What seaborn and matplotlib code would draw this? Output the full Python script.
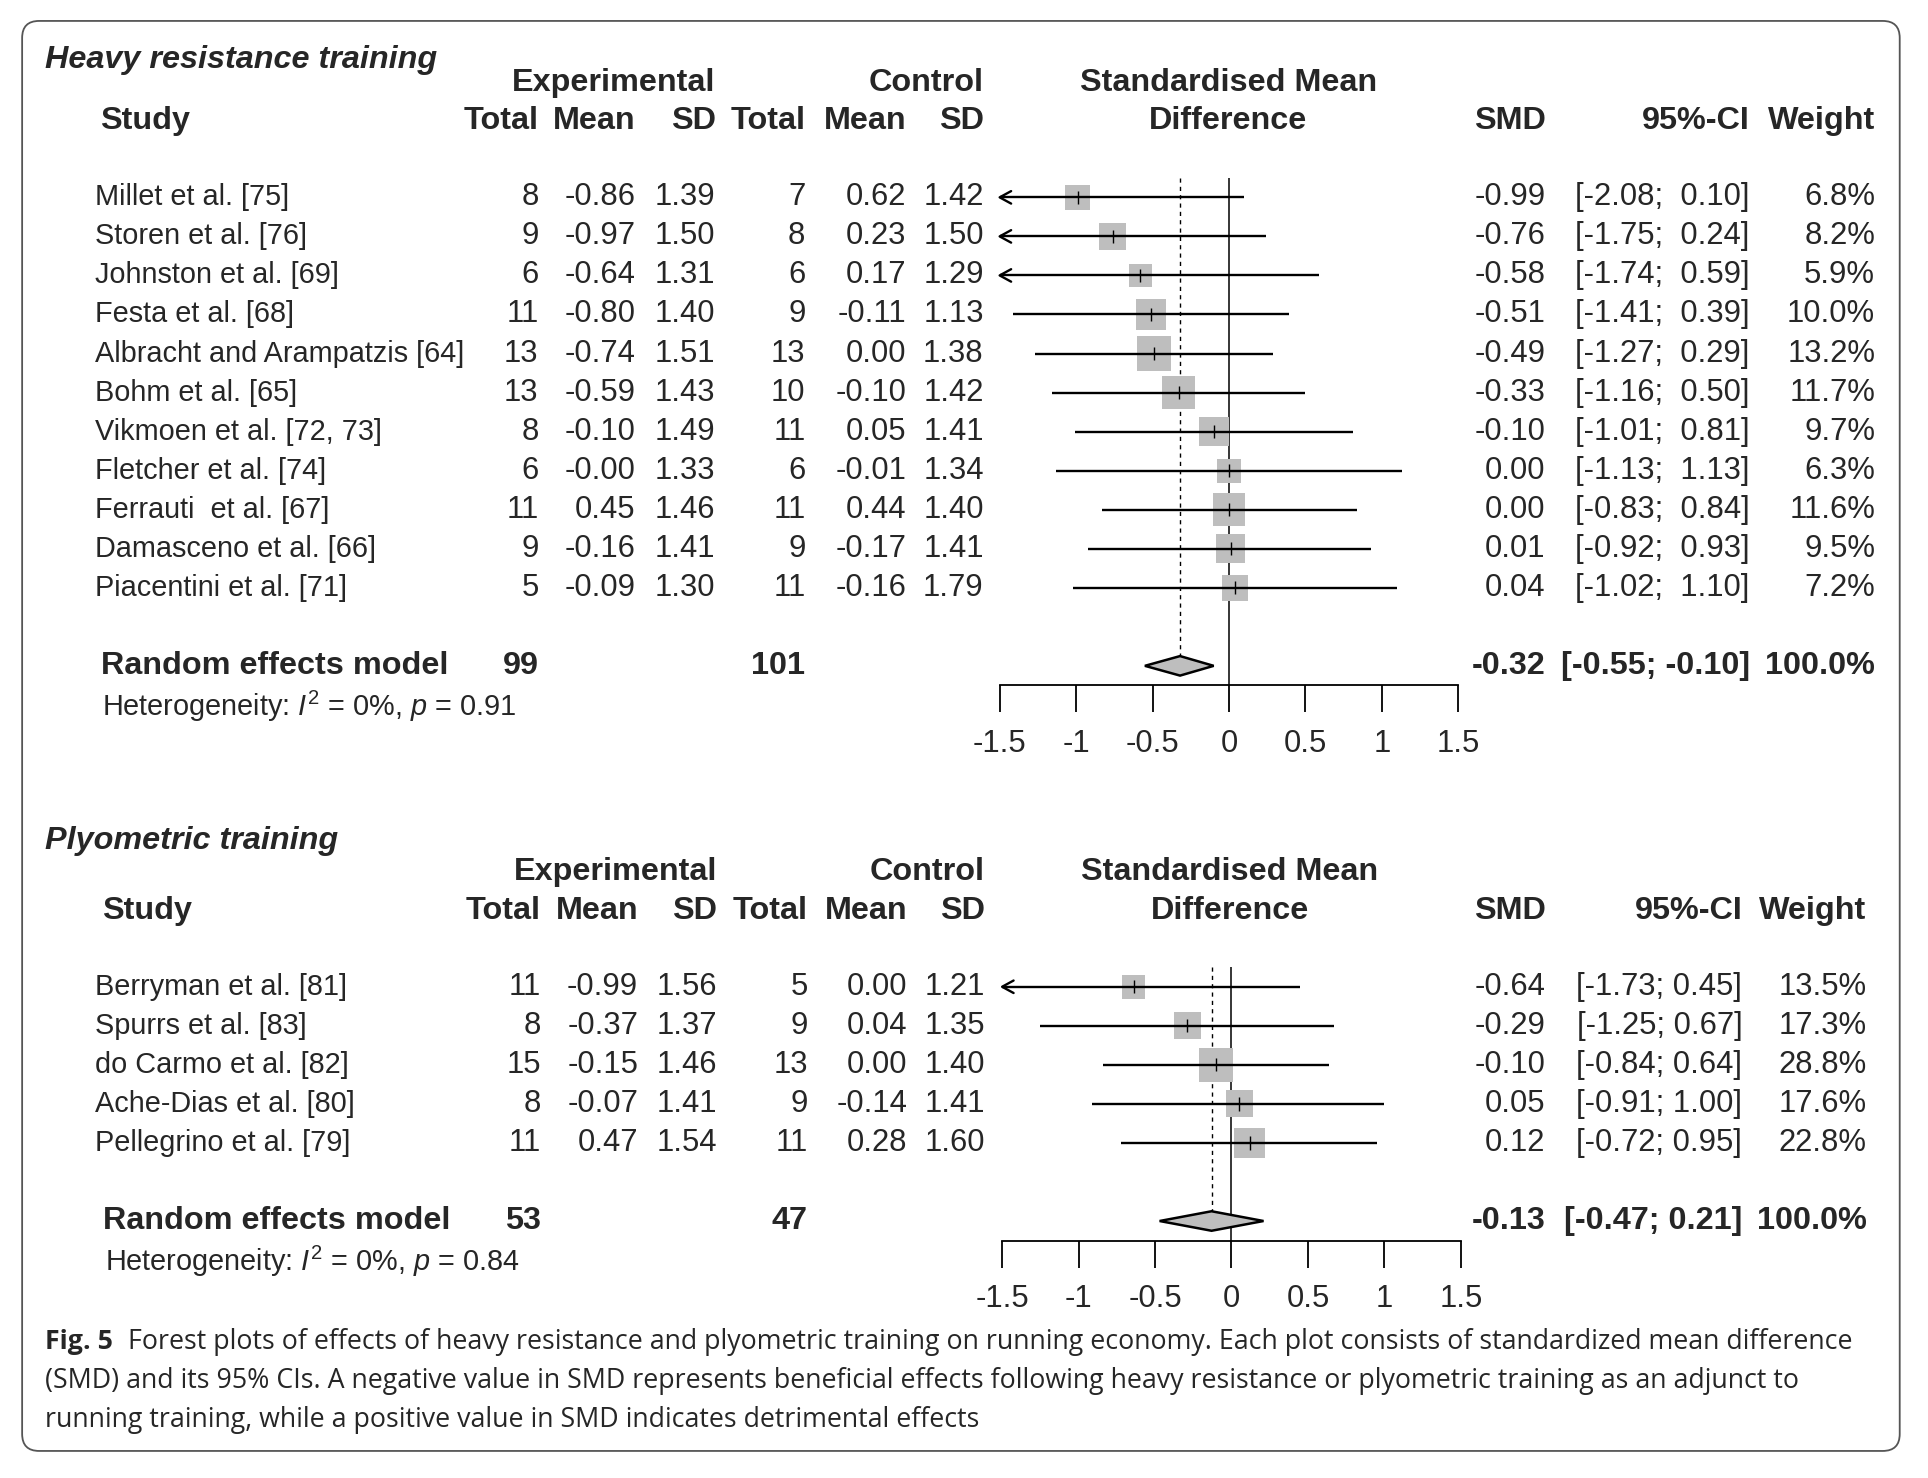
import matplotlib
matplotlib.use("Agg")
import matplotlib.pyplot as plt
import matplotlib.transforms as mtrans
from matplotlib.patches import FancyBboxPatch, Polygon
import pandas as pd
import seaborn as sns

# Heavy resistance training
hr_study = ["Millet et al. [75]", "Storen et al. [76]", "Johnston et al. [69]", "Festa et al. [68]",
            "Albracht and Arampatzis [64]", "Bohm et al. [65]", "Vikmoen et al. [72, 73]",
            "Fletcher et al. [74]", "Ferrauti  et al. [67]", "Damasceno et al. [66]",
            "Piacentini et al. [71]"]
hr_e_n = [8, 9, 6, 11, 13, 13, 8, 6, 11, 9, 5]
hr_e_mean = [-0.86, -0.97, -0.64, -0.80, -0.74, -0.59, -0.10, -0.0, 0.45, -0.16, -0.09]
hr_e_sd = [1.39, 1.50, 1.31, 1.40, 1.51, 1.43, 1.49, 1.33, 1.46, 1.41, 1.30]
hr_c_n = [7, 8, 6, 9, 13, 10, 11, 6, 11, 9, 11]
hr_c_mean = [0.62, 0.23, 0.17, -0.11, 0.00, -0.10, 0.05, -0.01, 0.44, -0.17, -0.16]
hr_c_sd = [1.42, 1.50, 1.29, 1.13, 1.38, 1.42, 1.41, 1.34, 1.40, 1.41, 1.79]
hr_smd = [-0.99, -0.76, -0.58, -0.51, -0.49, -0.33, -0.10, 0.00, 0.00, 0.01, 0.04]
hr_lo = [-2.08, -1.75, -1.74, -1.41, -1.27, -1.16, -1.01, -1.13, -0.83, -0.92, -1.02]
hr_hi = [0.10, 0.24, 0.59, 0.39, 0.29, 0.50, 0.81, 1.13, 0.84, 0.93, 1.10]
hr_weight = [6.8, 8.2, 5.9, 10.0, 13.2, 11.7, 9.7, 6.3, 11.6, 9.5, 7.2]
hr_pooled = [-0.32, -0.55, -0.10]
hr_totals = [99, 101]
hr_het = "Heterogeneity: $\\mathit{I}^{\\mathrm{2}}$ = 0%, $\\mathit{p}$ = 0.91"

# Plyometric training
py_study = ["Berryman et al. [81]", "Spurrs et al. [83]", "do Carmo et al. [82]",
            "Ache-Dias et al. [80]", "Pellegrino et al. [79]"]
py_e_n = [11, 8, 15, 8, 11]
py_e_mean = [-0.99, -0.37, -0.15, -0.07, 0.47]
py_e_sd = [1.56, 1.37, 1.46, 1.41, 1.54]
py_c_n = [5, 9, 13, 9, 11]
py_c_mean = [0.00, 0.04, 0.00, -0.14, 0.28]
py_c_sd = [1.21, 1.35, 1.40, 1.41, 1.60]
py_smd = [-0.64, -0.29, -0.10, 0.05, 0.12]
py_lo = [-1.73, -1.25, -0.84, -0.91, -0.72]
py_hi = [0.45, 0.67, 0.64, 1.00, 0.95]
py_weight = [13.5, 17.3, 28.8, 17.6, 22.8]
py_pooled = [-0.13, -0.47, 0.21]
py_totals = [53, 47]
py_het = "Heterogeneity: $\\mathit{I}^{\\mathrm{2}}$ = 0%, $\\mathit{p}$ = 0.84"

xticks = [-1.5, -1, -0.5, 0, 0.5, 1, 1.5]
xtick_labels = ["-1.5", "-1", "-0.5", "0", "0.5", "1", "1.5"]

caption_lines = [
    "Forest plots of effects of heavy resistance and plyometric training on running economy. Each plot consists of standardized mean difference",
    "(SMD) and its 95% CIs. A negative value in SMD represents beneficial effects following heavy resistance or plyometric training as an adjunct to",
    "running training, while a positive value in SMD indicates detrimental effects",
]

sns.set_style("white")
plt.rcParams["font.family"] = ["Liberation Sans", "DejaVu Sans"]
plt.rcParams["mathtext.fontset"] = "custom"
plt.rcParams["mathtext.rm"] = "Liberation Sans"
plt.rcParams["mathtext.it"] = "Liberation Sans:italic"

# layout is measured on a 1568 x 1202 grid
W, H = 1568.0, 1202.0
DY = 2.5     # small downward nudge of the content
RH = 31.75   # row height
FS = 22.3    # numbers
FSN = 20.8   # study names
FSB = 23.3   # bold headings
GREY = "#bebebe"


def fx(x):
    return x / W


def fy(y):
    return 1 - (y + DY) / H


fig = plt.figure(figsize=(19.28, 14.78), dpi=100)

# rounded frame
inch = 19.28 / W
frame = FancyBboxPatch((18 * inch, (H - 1180) * inch), (1545 - 18) * inch, (1180 - 17) * inch,
                       boxstyle="round,pad=0,rounding_size=0.17", transform=fig.dpi_scale_trans,
                       fill=False, ec="#555555", lw=1.3)
fig.patches.append(frame)


def fmt(v):
    return f"{v:.2f}"


def panel(title, df, pooled, totals, het, y0, xa, xb, cols, title_row):
    n = len(df)
    y_top = y0 - 0.5 * RH
    y_axis = y0 + (n + 1.5) * RH
    ax = fig.add_axes([fx(xa), fy(y_axis), fx(xb) - fx(xa), (y_axis - y_top) / H])
    ax.set_xlim(-1.5, 1.5)
    ax.set_ylim(n + 1.5, -0.5)
    ax.patch.set_alpha(0)
    for s in ["top", "left", "right"]:
        ax.spines[s].set_visible(False)
    ax.spines["bottom"].set_linewidth(1.3)
    ax.spines["bottom"].set_color("black")
    ax.set_xticks(xticks)
    ax.set_xticklabels(xtick_labels)
    ax.set_yticks([])
    ax.tick_params(axis="x", direction="out", length=19.5, width=1.3, pad=12,
                   labelsize=FS, bottom=True, color="black")

    rows = list(range(n))
    df = df.assign(row=rows)
    pr = n + 1

    # reference lines
    ax.axvline(0, color="black", lw=1.1, zorder=1)
    ax.vlines(pooled[0], -0.5, pr - 0.25, color="black", lw=1.0,
              linestyles=(0, (3, 3)), zorder=1)

    # squares sized by weight
    wmax = df["weight"].max()
    sns.scatterplot(data=df, x="smd", y="row", size="weight", sizes=(0, 620),
                    size_norm=(0, wmax), marker="s", color=GREY, edgecolor="none",
                    linewidth=0, legend=False, ax=ax, zorder=2)
    ax.set_xlabel("")
    ax.set_ylabel("")

    # confidence intervals
    for _, r in df.iterrows():
        left = max(r["lo"], -1.5)
        ax.plot([left, r["hi"]], [r["row"], r["row"]], color="black", lw=1.7, zorder=3,
                solid_capstyle="butt")
        if r["lo"] < -1.5:
            ax.plot([-1.5 + 0.075, -1.5, -1.5 + 0.075], [r["row"] - 0.16, r["row"], r["row"] + 0.16],
                    color="black", lw=1.7, zorder=3, clip_on=False)
        ax.vlines(r["smd"], r["row"] - 0.17, r["row"] + 0.17, color="black", lw=1.0, zorder=4)

    # pooled diamond
    ax.add_patch(Polygon([(pooled[1], pr), (pooled[0], pr - 0.25), (pooled[2], pr),
                          (pooled[0], pr + 0.25)], closed=True, fc=GREY, ec="black",
                         lw=1.8, zorder=3))

    tr = mtrans.blended_transform_factory(fig.transFigure, ax.transData)

    def put(x, row, s, ha="right", bold=False, size=None, style="normal"):
        ax.text(fx(x), row, s, transform=tr, ha=ha, va="center", clip_on=False,
                fontsize=size or (FSB if bold else FS),
                fontweight="bold" if bold else "normal", fontstyle=style)

    # title and headers
    put(37, title_row, title, ha="left", bold=True, style="italic")
    put(cols["e_sd"], -2.94, "Experimental", bold=True)
    put(cols["c_sd"], -2.94, "Control", bold=True)
    put(cols["mid"], -2.94, "Standardised Mean", ha="center", bold=True)
    put(cols["study_h"], -1.95, "Study", ha="left", bold=True)
    for key, lab in [("e_n", "Total"), ("e_mean", "Mean"), ("e_sd", "SD"), ("c_n", "Total"),
                     ("c_mean", "Mean"), ("c_sd", "SD"), ("smd", "SMD"), ("ci", "95%-CI"),
                     ("w", "Weight")]:
        put(cols[key], -1.95, lab, bold=True)
    put(cols["mid"], -1.95, "Difference", ha="center", bold=True)

    # study rows
    hi_s = [fmt(v) for v in list(df["hi"]) + [pooled[2]]]
    hw = max(len(s) for s in hi_s)
    lo_s = [fmt(v) for v in list(df["lo"]) + [pooled[1]]]
    lw_ = max(len(s) for s in lo_s)
    for i, r in df.iterrows():
        row = r["row"]
        put(77, row, r["study"], ha="left", size=FSN)
        put(cols["e_n"], row, f"{int(r['e_n'])}")
        put(cols["e_mean"], row, fmt(r["e_mean"]))
        put(cols["e_sd"], row, fmt(r["e_sd"]))
        put(cols["c_n"], row, f"{int(r['c_n'])}")
        put(cols["c_mean"], row, fmt(r["c_mean"]))
        put(cols["c_sd"], row, fmt(r["c_sd"]))
        put(cols["smd"], row, fmt(r["smd"]))
        put(cols["ci"], row, f"[{lo_s[row].rjust(lw_)}; {hi_s[row].rjust(hw)}]")
        put(cols["w"], row, f"{r['weight']:.1f}%")

    # pooled row
    put(cols["study_h"] + 1, pr, "Random effects model", ha="left", bold=True)
    put(cols["e_n"], pr, f"{totals[0]}", bold=True)
    put(cols["c_n"], pr, f"{totals[1]}", bold=True)
    put(cols["smd"], pr, fmt(pooled[0]), bold=True)
    put(cols["ci"], pr, f"[{lo_s[-1].rjust(lw_)}; {hi_s[-1].rjust(hw)}]", bold=True)
    put(cols["w"], pr, "100.0%", bold=True)
    put(cols["study_h"] + 2, pr + 1.03, het, ha="left", size=FSN)
    return ax


hr_df = pd.DataFrame({"study": hr_study, "e_n": hr_e_n, "e_mean": hr_e_mean, "e_sd": hr_e_sd,
                      "c_n": hr_c_n, "c_mean": hr_c_mean, "c_sd": hr_c_sd, "smd": hr_smd,
                      "lo": hr_lo, "hi": hr_hi, "weight": hr_weight})
py_df = pd.DataFrame({"study": py_study, "e_n": py_e_n, "e_mean": py_e_mean, "e_sd": py_e_sd,
                      "c_n": py_c_n, "c_mean": py_c_mean, "c_sd": py_c_sd, "smd": py_smd,
                      "lo": py_lo, "hi": py_hi, "weight": py_weight})

hr_cols = {"study_h": 81, "e_n": 438, "e_mean": 517, "e_sd": 582, "c_n": 655, "c_mean": 737,
           "c_sd": 800, "mid": 999, "smd": 1257, "ci": 1423, "w": 1525}
py_cols = {"study_h": 83, "e_n": 440, "e_mean": 519, "e_sd": 583, "c_n": 657, "c_mean": 738,
           "c_sd": 801, "mid": 1000, "smd": 1257, "ci": 1417, "w": 1518}

panel("Heavy resistance training", hr_df, hr_pooled, hr_totals, hr_het, 158, 813, 1186,
      hr_cols, -3.51)
panel("Plyometric training", py_df, py_pooled, py_totals, py_het, 800, 815, 1188,
      py_cols, -3.73)

# caption, fitted to the width of the first line
renderer = fig.canvas.get_renderer()
cap_family = ["Open Sans", "DejaVu Sans"]


def width_px(s, size, weight="normal"):
    t = fig.text(0, 0, s, fontsize=size, family=cap_family, fontweight=weight)
    w = t.get_window_extent(renderer).width
    t.remove()
    return w


base = 20.0
gap = 0.75
full = width_px("Fig. 5", base, "bold") + gap * base + width_px(caption_lines[0], base)
target = (1505 - 37) / W * 1928
cfs = base * target / full
lead = fig.text(fx(37), fy(1089), "Fig. 5", fontsize=cfs, family=cap_family,
                fontweight="bold", va="center", ha="left")
lead_w = lead.get_window_extent(renderer).width
fig.text(fx(37) + (lead_w + gap * cfs) / 1928, fy(1089), caption_lines[0], fontsize=cfs,
         family=cap_family, va="center", ha="left")
fig.text(fx(37), fy(1121), caption_lines[1], fontsize=cfs, family=cap_family, va="center",
         ha="left")
fig.text(fx(37), fy(1152), caption_lines[2], fontsize=cfs, family=cap_family, va="center",
         ha="left")

fig.savefig("out.png", dpi=100, facecolor="white")
